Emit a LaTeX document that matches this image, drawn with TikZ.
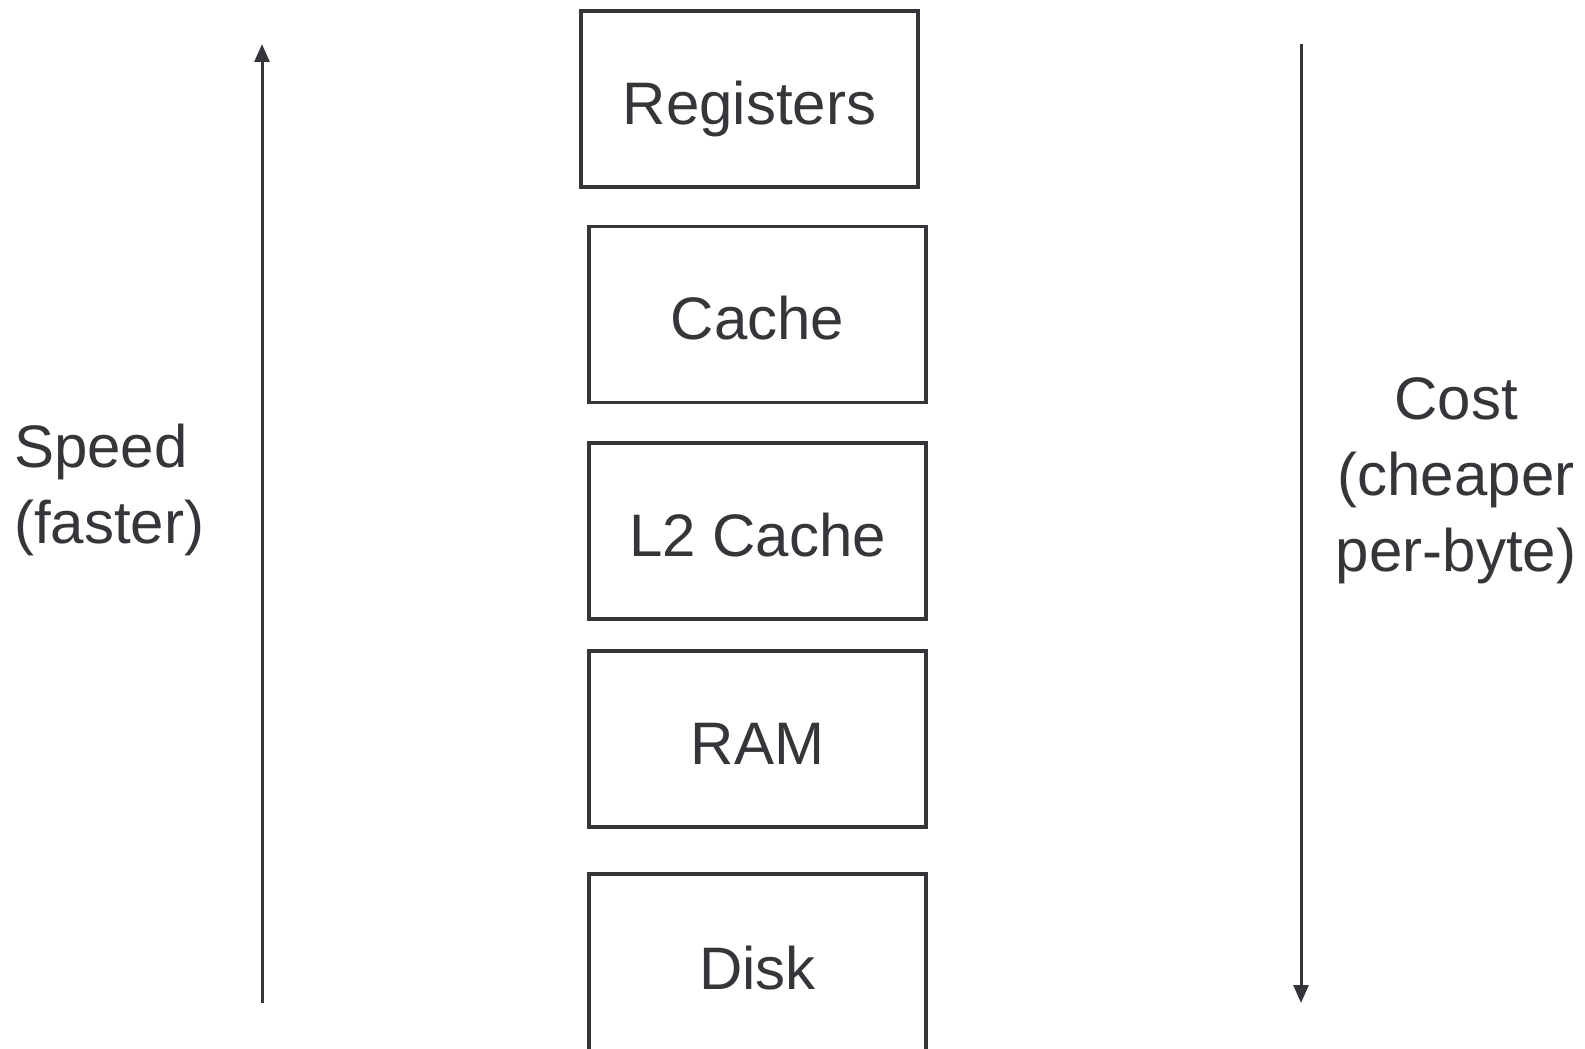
\documentclass[tikz,border=0pt]{standalone}
\usepackage{fontspec}
\setmainfont{Liberation Sans}
\usetikzlibrary{arrows.meta}
\definecolor{ink}{HTML}{36363A}
\begin{document}
\begin{tikzpicture}[x=1pt,y=-1pt,
  membox/.style={draw=ink, line width=3.2pt, minimum width=337pt, minimum height=176pt, inner sep=0pt, text height=50pt, text depth=0pt, text=ink, font=\fontsize{60}{77}\selectfont},
  side/.style={text=ink, font=\fontsize{60}{76}\selectfont, inner sep=0pt},
  axis/.style={draw=ink, line width=3pt, -{Triangle[width=15pt,length=18pt]}}]
\useasboundingbox (0,0) rectangle (1585,1049);
\clip (0,0) rectangle (1585,1049);
\node[membox] (reg) at (749.5,99) {Registers};
\node[membox] (cache) at (757.5,314.5) {Cache};
\node[membox] (l2) at (757.5,531) {L2 Cache};
\node[membox] (ram) at (757.5,739) {RAM};
\node[membox, minimum height=184pt, text height=46pt] (disk) at (757.5,966) {Disk};
\coordinate (sb) at (262,1003);
\coordinate (st) at (262,44);
\coordinate (ct) at (1301,44);
\coordinate (cb) at (1301,1003);
\draw[axis] (sb) -- (st);
\draw[axis] (ct) -- (cb);
\node[side, align=left, anchor=west] (speed) at (14,490) {Speed\\(faster)};
\node[side, align=center] (cost) at (1456,481) {Cost\\(cheaper\\per-byte)};
\end{tikzpicture}
\end{document}
